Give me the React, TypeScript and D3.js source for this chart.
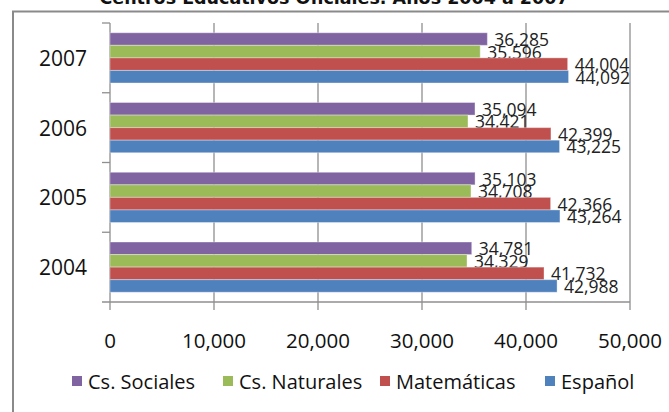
import * as d3 from "d3";

const years = ["2007", "2006", "2005", "2004"];
const series = ["Cs. Sociales", "Cs. Naturales", "Matemáticas", "Español"];
const colors = ["#8064A2", "#9BBB59", "#C0504D", "#4F81BD"];

// values per year, in the same order as years
const sociales = [36285, 35094, 35103, 34781];
const naturales = [35596, 34421, 34708, 34329];
const matematicas = [44004, 42399, 42366, 41732];
const espanol = [44092, 43225, 43264, 42988];

const xTicks = [0, 10000, 20000, 30000, 40000, 50000];
const title = "Centros Educativos Oficiales. Años 2004 a 2007";

const seriesValues = [sociales, naturales, matematicas, espanol];

const W = 669;
const H = 412;
const font = "'Open Sans', 'Noto Sans', sans-serif";

export default function App() {
  const x = d3.scaleLinear().domain([0, 50000]).range([110, 630]);
  const y = d3
    .scaleBand<string>()
    .domain(years)
    .range([23, 302])
    .paddingInner(0.28)
    .paddingOuter(0.14);
  const inner = d3
    .scaleBand<string>()
    .domain(series)
    .range([0, y.bandwidth()]);
  const fmt = d3.format(",");

  const top = 23;
  const bottom = 302;
  const boundaries = years.map((yr) => y(yr)! - (y.step() * 0.28) / 2);
  boundaries.push(bottom);

  return (
    <svg
      width={W}
      height={H}
      style={{ position: "absolute", left: 0, top: 0, background: "#fff" }}
    >
      <text
        x={334}
        y={4}
        textAnchor="middle"
        fontFamily="'DejaVu Sans', Verdana, sans-serif"
        fontWeight="bold"
        fontSize={17.5}
        fill="#111"
      >
        {title}
      </text>
      <rect
        x={13}
        y={11.5}
        width={W + 20}
        height={H + 20}
        fill="none"
        stroke="#8a8a8a"
        strokeWidth={2}
      />

      {/* grid lines */}
      {xTicks.map((t) => (
        <line
          key={`g${t}`}
          x1={x(t)}
          x2={x(t)}
          y1={top}
          y2={bottom + 8}
          stroke="#8f8f8f"
          strokeWidth={1.3}
        />
      ))}
      {/* y axis ticks at category boundaries */}
      {boundaries.map((b, i) => (
        <line
          key={`yt${i}`}
          x1={x(0) - 8}
          x2={i === boundaries.length - 1 ? x(50000) : x(0)}
          y1={b}
          y2={b}
          stroke="#8f8f8f"
          strokeWidth={1.3}
        />
      ))}

      {/* bars */}
      {years.map((yr, yi) => (
        <g key={yr} transform={`translate(0, ${y(yr)})`}>
          {series.map((s, si) => {
            const v = seriesValues[si][yi];
            const by = inner(s)!;
            return (
              <g key={s}>
                <rect
                  x={x(0)}
                  y={by}
                  width={x(v) - x(0)}
                  height={inner.bandwidth()}
                  fill={colors[si]}
                  stroke="#ffffff"
                  strokeOpacity={0.35}
                  strokeWidth={1}
                />
                <text
                  x={x(v) + 7}
                  y={by + inner.bandwidth() / 2}
                  dominantBaseline="central"
                  fontFamily={font}
                  fontSize={17.5}
                  fill="#222"
                >
                  {fmt(v)}
                </text>
              </g>
            );
          })}
        </g>
      ))}

      {/* year labels */}
      {years.map((yr) => (
        <text
          key={`l${yr}`}
          x={87}
          y={y(yr)! + y.bandwidth() / 2}
          textAnchor="end"
          dominantBaseline="central"
          fontFamily={font}
          fontSize={21}
          fill="#111"
        >
          {yr}
        </text>
      ))}

      {/* x tick labels */}
      {xTicks.map((t) => (
        <text
          key={`xl${t}`}
          x={x(t)}
          y={340}
          textAnchor="middle"
          dominantBaseline="central"
          fontFamily={font}
          fontSize={20.5}
          fill="#111"
        >
          {fmt(t)}
        </text>
      ))}

      {/* legend */}
      {[72, 223, 380, 545].map((lx, i) => (
        <g key={`lg${i}`} transform={`translate(${lx}, 381)`}>
          <rect x={0} y={-5} width={10} height={10} fill={colors[i]} />
          <text
            x={16}
            y={0}
            dominantBaseline="central"
            fontFamily={font}
            fontSize={20}
            fill="#111"
          >
            {series[i]}
          </text>
        </g>
      ))}
    </svg>
  );
}
